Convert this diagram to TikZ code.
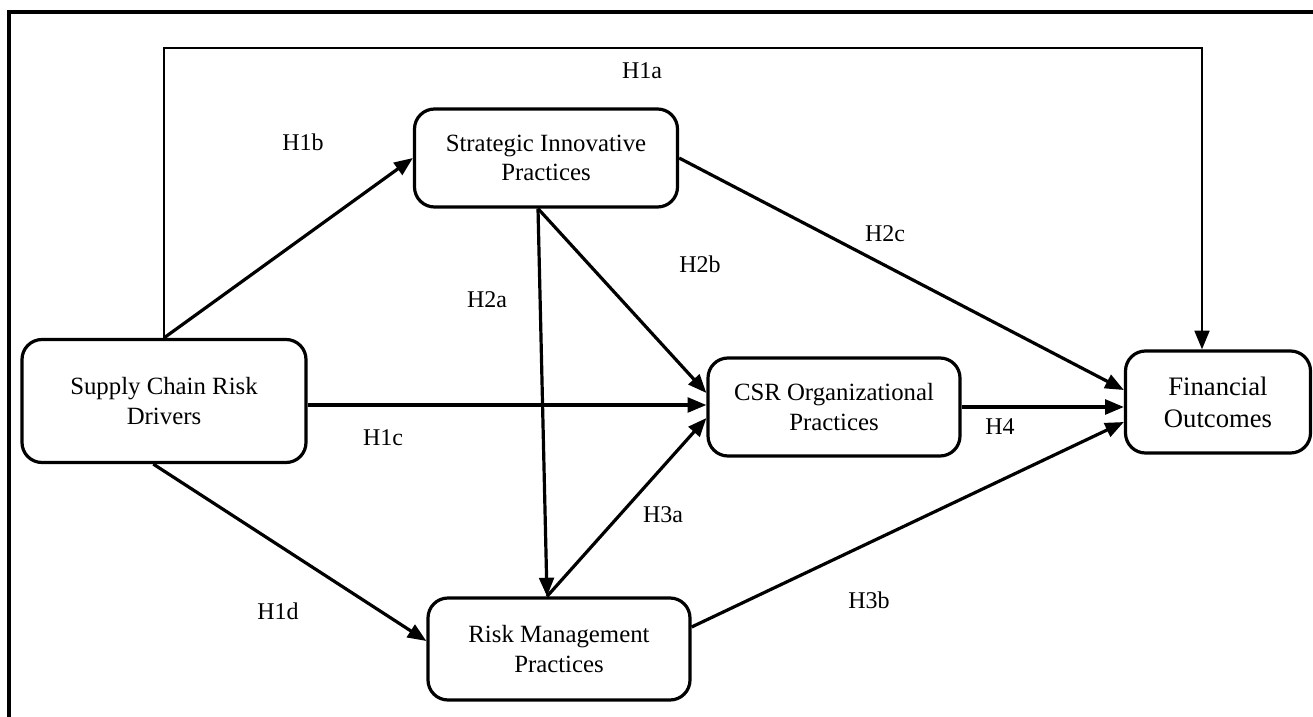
\documentclass[tikz,border=0pt]{standalone}
\usepackage{fontspec}
\setmainfont{Liberation Serif}
\usetikzlibrary{arrows.meta,calc}
\tikzset{
  box/.style={draw, line width=2.4pt, rounded corners=15pt, align=center, font=\fontsize{18.6}{22}\selectfont, inner sep=0pt},
  conn/.style={line width=2.4pt, -{Triangle[length=14pt,width=11pt]}},
  lab/.style={font=\fontsize{18}{21}\selectfont, inner sep=0pt}
}
\begin{document}
\begin{tikzpicture}[x=0.75pt,y=-0.75pt]
\useasboundingbox (0,0) rectangle (1313,717);
\draw[line width=2.6pt] (9,717) -- (9,12) -- (1313,12);
\node[box, minimum width=213pt, minimum height=92.25pt] (scrd) at (164,401) {Supply Chain Risk\\Drivers};
\node[box, minimum width=197.25pt, minimum height=73.5pt] (sip) at (546,158) {Strategic Innovative\\Practices};
\node[box, minimum width=189pt, minimum height=73.5pt] (csr) at (834,407) {CSR Organizational\\Practices};
\node[box, minimum width=138.75pt, minimum height=76.5pt, font=\fontsize{20}{24}\selectfont] (fo) at (1218,402) {Financial\\Outcomes};
\node[box, minimum width=196.5pt, minimum height=76.5pt] (rmp) at (559,649) {Risk Management\\Practices};
% connectors
\draw[line width=2pt, -{Triangle[length=14pt,width=11pt]}] (scrd.north) |- (164,48) -| ([xshift=-12pt]fo.north);
\draw[conn] (scrd.north) -- (sip.west);
\draw[conn] ([yshift=-3pt]scrd.east) -- ([yshift=1.5pt]csr.west);
\draw[conn] ([xshift=-8pt]scrd.south) -- ([yshift=6pt]rmp.west);
\draw[conn] ([xshift=-6pt]sip.south) -- ([xshift=-9pt]rmp.north);
\draw[conn] ([xshift=-6pt]sip.south) -- ([yshift=10.5pt]csr.west);
\draw[conn] (sip.east) -- ([yshift=9pt]fo.west);
\draw[conn] ([xshift=-9pt]rmp.north) -- ([yshift=-8.25pt]csr.west);
\draw[conn] ([yshift=16.5pt]rmp.east) -- ([yshift=-15pt]fo.west);
\draw[conn] (csr.east) -- (csr.east -| fo.west);
% labels
\node[lab] (l1a) at (642,71) {H1a};
\node[lab] (l1b) at (303,142) {H1b};
\node[lab] (l1c) at (383,438) {H1c};
\node[lab] (l1d) at (278,611) {H1d};
\node[lab] (l2a) at (487,300) {H2a};
\node[lab] (l2b) at (700,264) {H2b};
\node[lab] (l2c) at (885,234) {H2c};
\node[lab] (l3a) at (663,515) {H3a};
\node[lab] (l3b) at (869,600) {H3b};
\node[lab] (l4) at (1000,427) {H4};
\end{tikzpicture}
\end{document}
